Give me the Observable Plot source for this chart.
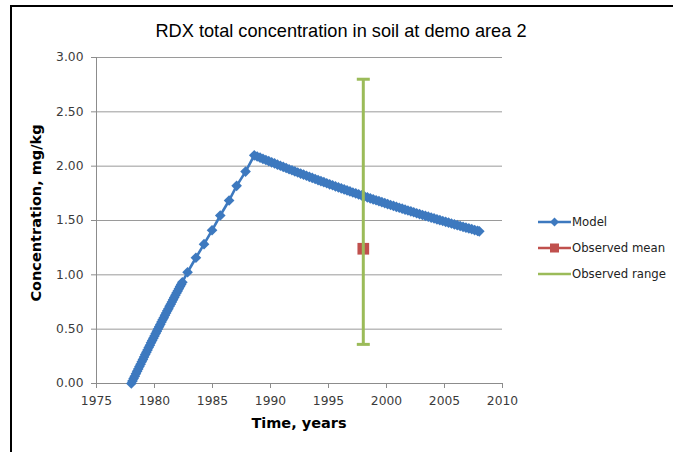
<!DOCTYPE html>
<html>
<head>
<meta charset="utf-8">
<script src="https://cdn.jsdelivr.net/npm/d3@7"></script>
<script src="https://cdn.jsdelivr.net/npm/@observablehq/plot@0.6"></script>
<style>
  html, body { margin: 0; padding: 0; background: #fff; }
  #wrap { position: relative; width: 673px; height: 452px; overflow: hidden; background: #fff; }
  #frame { position: absolute; left: 10px; top: 5px; width: 700px; height: 500px;
           border-left: 2.5px solid #000; border-top: 2px solid #000; box-sizing: border-box; }
  #title { position: absolute; left: 0; width: 682px; top: 21px; text-align: center;
           font-family: "Liberation Sans", Arial, sans-serif; font-size: 18.2px; color: #000; }
  #xtitle { position: absolute; left: 96px; width: 406px; top: 415px; text-align: center;
            font-family: "DejaVu Sans", sans-serif; font-weight: bold; font-size: 14.5px; color: #000; }
  #ytitle { position: absolute; left: 36px; top: 213px; transform: translate(-50%, -50%) rotate(-90deg);
            white-space: nowrap; font-family: "DejaVu Sans", sans-serif; font-weight: bold; font-size: 14.5px; color: #000; }
  #legend { position: absolute; left: 538px; top: 209px; font-family: "DejaVu Sans", sans-serif;
            font-size: 11.7px; color: #222; }
  .item { display: flex; align-items: center; height: 26.2px; }
  .item svg { margin-right: 1px; }
  #chart { position: absolute; left: 0; top: 0; }
</style>
</head>
<body>
<div id="wrap">
  <div id="chart"></div>
  <div id="frame"></div>
  <div id="title">RDX total concentration in soil at demo area 2</div>
  <div id="xtitle">Time, years</div>
  <div id="ytitle">Concentration, mg/kg</div>
  <div id="legend"></div>
</div>
<script>
// ---- data ----
const modelYears = [
  1978.0, 1978.1, 1978.2, 1978.3, 1978.4, 1978.5, 1978.6, 1978.7, 1978.8, 1978.9,
  1979.0, 1979.1, 1979.2, 1979.3, 1979.4, 1979.5, 1979.6, 1979.7, 1979.8, 1979.9,
  1980.0, 1980.1, 1980.2, 1980.3, 1980.4, 1980.5, 1980.6, 1980.7, 1980.8, 1980.9,
  1981.0, 1981.1, 1981.2, 1981.3, 1981.4, 1981.5, 1981.6, 1981.7, 1981.8, 1981.9,
  1982.0, 1982.1, 1982.2, 1982.3, 1982.4,
  1982.85, 1983.57, 1984.27, 1984.96, 1985.67, 1986.43, 1987.08, 1987.85, 1988.6,
  1988.85, 1989.1, 1989.35, 1989.6, 1989.85, 1990.1, 1990.35, 1990.6, 1990.85, 1991.1,
  1991.35, 1991.6, 1991.85, 1992.1, 1992.35, 1992.6, 1992.85, 1993.1, 1993.35, 1993.6,
  1993.85, 1994.1, 1994.35, 1994.6, 1994.85, 1995.1, 1995.35, 1995.6, 1995.85, 1996.1,
  1996.35, 1996.6, 1996.85, 1997.1, 1997.35, 1997.6, 1997.85, 1998.1, 1998.35, 1998.6,
  1998.85, 1999.1, 1999.35, 1999.6, 1999.85, 2000.1, 2000.35, 2000.6, 2000.85, 2001.1,
  2001.35, 2001.6, 2001.85, 2002.1, 2002.35, 2002.6, 2002.85, 2003.1, 2003.35, 2003.6,
  2003.85, 2004.1, 2004.35, 2004.6, 2004.85, 2005.1, 2005.35, 2005.6, 2005.85, 2006.1,
  2006.35, 2006.6, 2006.85, 2007.1, 2007.35, 2007.6, 2007.85, 2008.0
];
const modelValues = [
  0.000, 0.022, 0.045, 0.067, 0.090, 0.112, 0.134, 0.156, 0.178, 0.200,
  0.222, 0.244, 0.266, 0.287, 0.309, 0.331, 0.352, 0.374, 0.395, 0.417,
  0.438, 0.459, 0.480, 0.502, 0.523, 0.544, 0.565, 0.586, 0.606, 0.627,
  0.648, 0.669, 0.689, 0.710, 0.730, 0.751, 0.771, 0.791, 0.812, 0.832,
  0.852, 0.872, 0.892, 0.912, 0.932,
  1.024, 1.157, 1.282, 1.410, 1.546, 1.684, 1.819, 1.950, 2.100,
  2.089, 2.078, 2.067, 2.057, 2.046, 2.035, 2.025, 2.014, 2.004, 1.993,
  1.983, 1.972, 1.962, 1.952, 1.942, 1.932, 1.922, 1.912, 1.902, 1.892,
  1.882, 1.872, 1.862, 1.853, 1.843, 1.833, 1.824, 1.814, 1.805, 1.796,
  1.786, 1.777, 1.768, 1.758, 1.749, 1.740, 1.731, 1.722, 1.713, 1.704,
  1.695, 1.686, 1.678, 1.669, 1.660, 1.651, 1.643, 1.634, 1.626, 1.617,
  1.609, 1.600, 1.592, 1.584, 1.576, 1.567, 1.559, 1.551, 1.543, 1.535,
  1.527, 1.519, 1.511, 1.503, 1.495, 1.488, 1.480, 1.472, 1.464, 1.457,
  1.449, 1.442, 1.434, 1.427, 1.420, 1.412, 1.405, 1.400
];
const observedYear = [1998];
const observedMean = [1.24];
const observedLow = [0.36];
const observedHigh = [2.80];
const xTicks = [1975, 1980, 1985, 1990, 1995, 2000, 2005, 2010];
const yTicks = [0, 0.5, 1.0, 1.5, 2.0, 2.5, 3.0];
const seriesNames = ["Model", "Observed mean", "Observed range"];

// ---- styles ----
const blue = "#3d79bf", red = "#c0504d", green = "#9bbb59";

const model = modelYears.map((x, i) => ({x, y: modelValues[i]}));
const observed = observedYear.map((x, i) => ({x, mean: observedMean[i], lo: observedLow[i], hi: observedHigh[i]}));

const capSymbol = {
  draw(ctx, size) {
    const r = Math.sqrt(size / Math.PI);
    ctx.moveTo(-r, 0); ctx.lineTo(r, 0);
  }
};

const chart = Plot.plot({
  width: 673, height: 452,
  marginLeft: 96, marginRight: 171, marginTop: 57, marginBottom: 69,
  x: {domain: [1975, 2010]},
  y: {domain: [0, 3]},
  style: {background: "transparent", fontFamily: "DejaVu Sans, sans-serif", fontSize: "12.3px", color: "#3a3a3a"},
  marks: [
    Plot.ruleY(yTicks, {stroke: "#9a9a9a", strokeWidth: 1}),
    Plot.ruleX([1975], {stroke: "#8c8c8c"}),
    Plot.ruleY([0], {stroke: "#8c8c8c"}),
    Plot.axisY({ticks: yTicks, tickFormat: d3.format(".2f"), tickSize: 5, tickPadding: 8, label: null, stroke: "#8c8c8c", fill: "#3a3a3a"}),
    Plot.axisX({ticks: xTicks, tickFormat: d3.format("d"), tickSize: 5, tickPadding: 8, label: null, stroke: "#8c8c8c", fill: "#3a3a3a"}),
    Plot.line(model, {x: "x", y: "y", stroke: blue, strokeWidth: 2.6}),
    Plot.dot(model, {x: "x", y: "y", symbol: "diamond2", r: 4.8, fill: blue, stroke: "none"}),
    Plot.dot(observed, {x: "x", y: "mean", symbol: "square", r: 6.6, fill: red, stroke: "none"}),
    Plot.ruleX(observed, {x: "x", y1: "lo", y2: "hi", stroke: green, strokeWidth: 3}),
    Plot.dot(observed, {x: "x", y: "lo", symbol: capSymbol, r: 6.5, stroke: green, strokeWidth: 3, fill: "none"}),
    Plot.dot(observed, {x: "x", y: "hi", symbol: capSymbol, r: 6.5, stroke: green, strokeWidth: 3, fill: "none"})
  ]
});
document.getElementById("chart").appendChild(chart);

// ---- legend ----
const legendMarkers = [
  `<path d="M16.5,1.5L21,6L16.5,10.5L12,6Z" fill="${blue}"/>`,
  `<rect x="12" y="1.5" width="9" height="9" fill="${red}"/>`,
  ``
];
const legendColors = [blue, red, green];
const legend = document.getElementById("legend");
seriesNames.forEach((name, i) => {
  const div = document.createElement("div");
  div.className = "item";
  div.innerHTML = `<svg width="33" height="12"><line x1="0" y1="6" x2="33" y2="6" stroke="${legendColors[i]}" stroke-width="2.5"/>${legendMarkers[i]}</svg><span>${name}</span>`;
  legend.appendChild(div);
});
</script>
</body>
</html>
